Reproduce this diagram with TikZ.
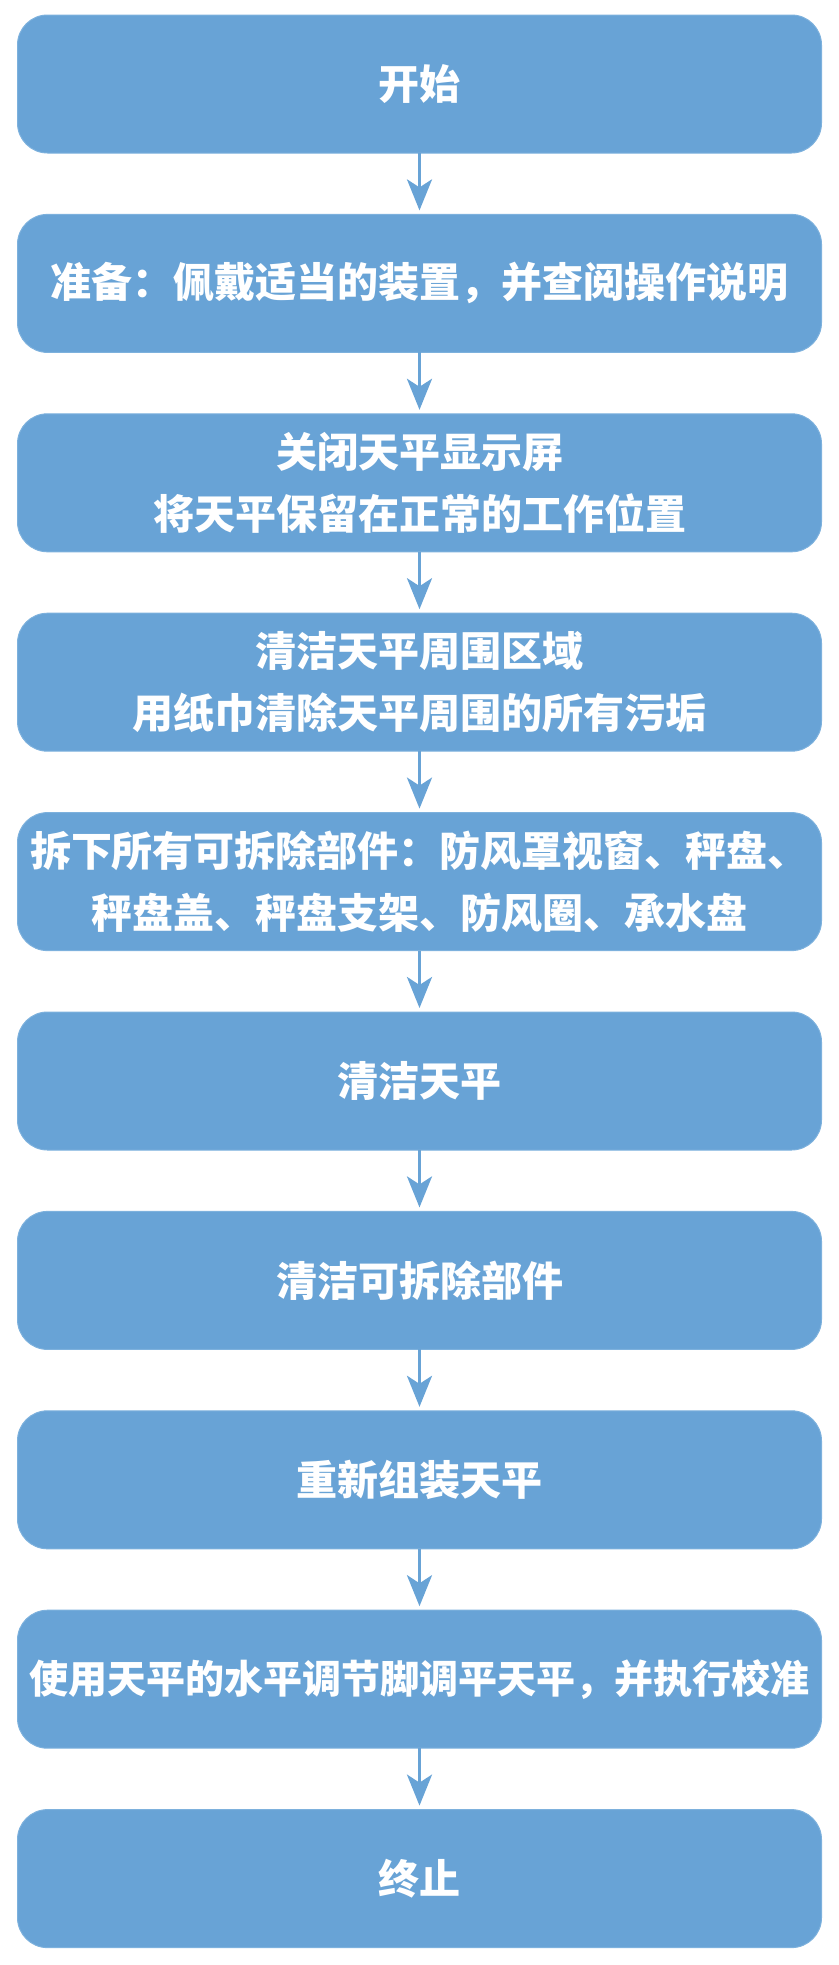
\documentclass[tikz,border=0pt]{standalone}
\usepackage{fontspec}
\newfontfamily\cjk{Noto Sans CJK SC}
\usetikzlibrary{arrows.meta,positioning}
\definecolor{StepBlue}{HTML}{68A3D6}
\definecolor{EdgeBlue}{HTML}{7DB1DD}

\begin{document}
\begin{tikzpicture}[x=1pt,y=1pt,node distance=61.4pt,
  box/.style={draw=EdgeBlue,line width=1pt,fill=StepBlue,rounded corners=30pt,
    minimum width=804pt,minimum height=138pt,outer sep=0pt,inner sep=0pt,
    align=center,text=white,font=\cjk\bfseries\fontsize{41}{62}\selectfont},
  link/.style={StepBlue,line width=3.3pt,
    -{Stealth[length=31pt,width=25pt,inset=8pt]},shorten >=4pt}]
\useasboundingbox (0,0) rectangle (838,-1965);
\node[box] (start) at (419.5,-84) {开始};
\node[box,below=of start] (prep) {准备：佩戴适当的装置，并查阅操作说明};
\node[box,below=of prep] (off) {关闭天平显示屏\\将天平保留在正常的工作位置};
\node[box,below=of off] (area) {清洁天平周围区域\\用纸巾清除天平周围的所有污垢};
\node[box,below=of area] (parts) {拆下所有可拆除部件：防风罩视窗、秤盘、\\秤盘盖、秤盘支架、防风圈、承水盘};
\node[box,below=of parts] (clean) {清洁天平};
\node[box,below=of clean] (cleanparts) {清洁可拆除部件};
\node[box,below=of cleanparts] (assemble) {重新组装天平};
\node[box,below=of assemble,font=\cjk\bfseries\fontsize{39}{60}\selectfont] (level) {使用天平的水平调节脚调平天平，并执行校准};
\node[box,below=of level] (stop) {终止};
% connectors
\foreach \a/\b in {start/prep,prep/off,off/area,area/parts,parts/clean,
  clean/cleanparts,cleanparts/assemble,assemble/level,level/stop}
  \draw[link] (\a) -- (\b);
\end{tikzpicture}
\end{document}
